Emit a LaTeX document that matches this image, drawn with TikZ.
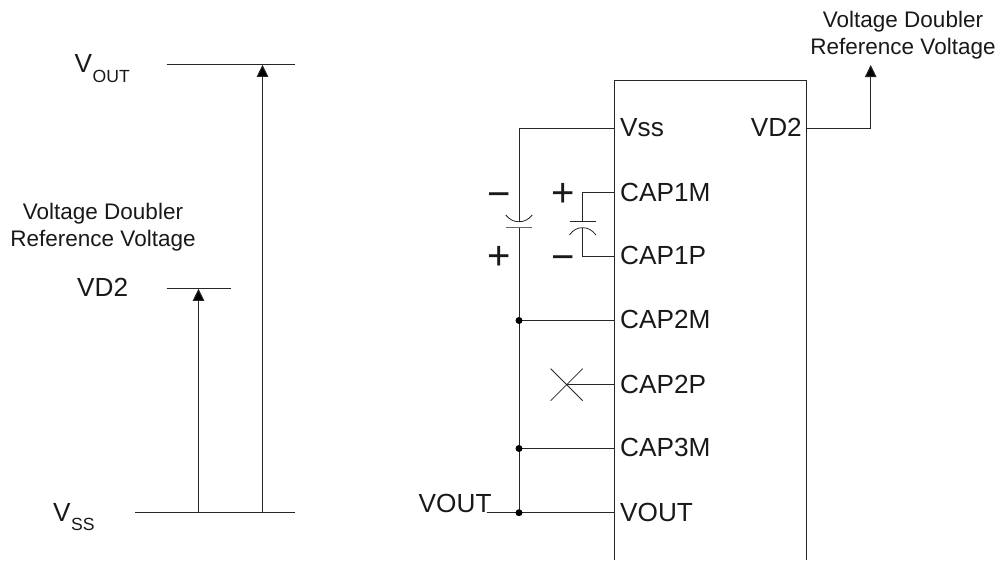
\documentclass[tikz,border=0pt]{standalone}
\usepackage{fontspec}
\setmainfont{Liberation Sans}
\usetikzlibrary{arrows.meta}
\tikzset{
  wire/.style={line width=1pt,draw=black!85},
  thin wire/.style={line width=0.8pt,draw=black!85},
  arrowwire/.style={wire,-{Triangle[length=12pt,width=11.5pt,fill=black]}},
  big/.style={font=\fontsize{26.2}{30}\selectfont,inner sep=0pt,anchor=base west,text=black!90},
  bigr/.style={big,anchor=base east},
  sub/.style={font=\fontsize{17.6}{20}\selectfont,inner sep=0pt,anchor=base west,text=black!90},
  small/.style={font=\fontsize{22.5}{27}\selectfont,inner sep=0pt,align=center,anchor=center,text=black!90},
  sign/.style={font=\fontsize{40}{40}\selectfont,inner sep=0pt,anchor=center,text=black!90},
  pindot/.style={circle,fill=black,inner sep=0pt,minimum size=7pt}
}
\begin{document}
\begin{tikzpicture}[x=1pt,y=-1pt]
\useasboundingbox (0,0) rectangle (1002,560);
% left level diagram
\coordinate (vouta) at (166.5,64.5);
\coordinate (voutb) at (295,64.5);
\coordinate (vouttip) at (262.5,64.8);
\coordinate (vda) at (166.5,288.5);
\coordinate (vdb) at (231,288.5);
\coordinate (vdtip) at (198.5,288.8);
\coordinate (vssa) at (135,512.5);
\coordinate (vssb) at (295,512.5);
\coordinate (vssv) at (262.5,512.5);
\coordinate (vssd) at (198.5,512.5);
\draw[thin wire] (vouta) -- (voutb);
\draw[thin wire] (vda) -- (vdb);
\draw[thin wire] (vssa) -- (vssb);
\draw[arrowwire] (vssv) -- (vouttip);
\draw[arrowwire] (vssd) -- (vdtip);
\node[big] (lv) at (74.5,72.7) {V};
\node[sub] (lvs) at (92.5,82) {OUT};
\node[big] (lvd) at (77,296.7) {VD2};
\node[big] (lss) at (53,521) {V};
\node[sub] (lsss) at (71,530) {SS};
\node[small] (ltxt) at (103,227) {Voltage Doubler\\Reference Voltage};
% chip
\coordinate (bl) at (614.8,560);
\coordinate (tl) at (614.8,80.7);
\coordinate (tr) at (806.7,80.7);
\coordinate (br) at (806.7,560);
\draw[wire] (bl) -- (tl) -- (tr) -- (br);
\coordinate (pvss) at (614.8,128.3);
\coordinate (pc1m) at (614.8,192.7);
\coordinate (pc1p) at (614.8,256.3);
\coordinate (pc2m) at (614.8,320.5);
\coordinate (pc2p) at (614.8,384.7);
\coordinate (pc3m) at (614.8,448.5);
\coordinate (pvout) at (614.8,512.7);
\coordinate (pvd2) at (806.7,128.3);
\node[big] (tvss) at (620,136.7) {Vss};
\node[big] (tc1m) at (620,201.1) {CAP1M};
\node[big] (tc1p) at (620,264.7) {CAP1P};
\node[big] (tc2m) at (620,328.9) {CAP2M};
\node[big] (tc2p) at (620,393.1) {CAP2P};
\node[big] (tc3m) at (620,456.9) {CAP3M};
\node[big] (tvout) at (620,521.1) {VOUT};
\node[bigr] (tvd2) at (802,136.7) {VD2};
% VD2 output
\coordinate (vdout) at (870.7,65);
\draw[arrowwire] (pvd2) -| (vdout);
\node[small] (rtxt) at (903,35) {Voltage Doubler\\Reference Voltage};
% big capacitor on rail
\coordinate (railtop) at (519,128.3);
\coordinate (arc1) at (519,221.7);
\coordinate (plate1) at (519,227.7);
\coordinate (railbot) at (519,512.7);
\coordinate (n3) at (519,448.5);
\coordinate (n2) at (519,320.5);
\coordinate (vl) at (486.7,512.7);
\draw[wire] (pvss) -- (railtop) -- (arc1);
\draw[wire] (plate1) -- (railbot);
\draw[wire,draw=black!60] (506,227.7) -- (532,227.7);
\draw[thin wire] (505.7,215) .. controls (510,220) and (514,221.7) .. (519,221.7) .. controls (524,221.7) and (528,220) .. (532.3,215);
\draw[wire] (n2) -- (pc2m);
\draw[wire] (n3) -- (pc3m);
\draw[thin wire] (vl) -- (railbot);
\draw[wire] (railbot) -- (pvout);
\node[pindot] (dot2) at (n2) {};
\node[pindot] (dot3) at (n3) {};
\node[pindot] (dot4) at (railbot) {};
\node[big,anchor=base east] (tvl) at (491.7,512.7) {VOUT};
% second capacitor
\coordinate (c2a) at (582.7,192.7);
\coordinate (c2pl) at (582.7,221);
\coordinate (c2b) at (582.7,256.3);
\coordinate (c2arc) at (582.7,227.7);
\draw[wire] (pc1m) -- (c2a) -- (c2pl);
\draw[wire] (pc1p) -- (c2b) -- (c2arc);
\draw[thin wire] (570,221) -- (596,221);
\draw[thin wire] (569.5,235) .. controls (573,230) and (577,227.7) .. (582.7,227.7) .. controls (588,227.7) and (592,230) .. (596,235);
% no-connect
\coordinate (x1) at (550.7,368.7);
\coordinate (x2) at (582.7,400.7);
\coordinate (x3) at (550.7,400.7);
\coordinate (x4) at (582.7,368.7);
\coordinate (xc) at (566.7,384.7);
\draw[thin wire] (x1) -- (x2);
\draw[thin wire] (x3) -- (x4);
\draw[thin wire] (xc) -- (pc2p);
% signs
\node[sign] (s1) at (499.3,199.7) {−};
\node[sign] (s2) at (499.3,258.3) {+};
\node[sign] (s3) at (563.3,194.7) {+};
\node[sign] (s4) at (563.3,263) {−};
\end{tikzpicture}
\end{document}
